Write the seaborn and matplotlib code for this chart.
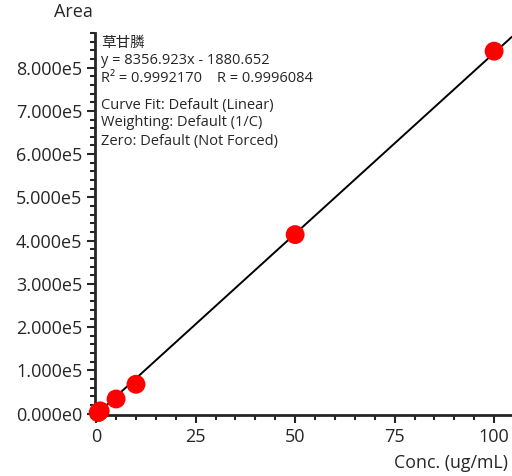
import numpy as np
import pandas as pd
import seaborn as sns
import matplotlib
matplotlib.use("Agg")
import matplotlib.pyplot as plt
from matplotlib.ticker import MultipleLocator, FuncFormatter

# calibration points
conc = [0.5, 1, 5, 10, 50, 100]
area = [2500, 6500, 34000, 68000, 414000, 838000]

# fit reported on the chart
slope = 8356.923
intercept = -1880.652
compound = "草甘膦"
info_lines = [
    compound,
    "y = 8356.923x - 1880.652",
    "R² = 0.9992170    R = 0.9996084",
    "Curve Fit: Default (Linear)",
    "Weighting: Default (1/C)",
    "Zero: Default (Not Forced)",
]
# vertical pixel centres of the info lines
info_y = [43, 61, 79, 105, 123, 141]

sns.set_style("ticks")
plt.rcParams['font.family'] = ['Open Sans', 'Noto Sans CJK SC', 'DejaVu Sans']

df = pd.DataFrame({"Conc": conc, "Area": area})

W, H = 512, 476
fig = plt.figure(figsize=(W / 100, H / 100), dpi=100)
ax = fig.add_axes([95 / W, 1 - 415 / H, 1 - 95 / W, (415 - 33) / H])

xmin, xmax = -0.3, 104.5
line_x = np.array([0, xmax])
line_df = pd.DataFrame({"Conc": line_x, "Area": slope * line_x + intercept})
sns.lineplot(data=line_df, x="Conc", y="Area", color="black", lw=1.4, ax=ax)
sns.scatterplot(data=df, x="Conc", y="Area", color="#ff0000", s=185,
                edgecolor="none", ax=ax, zorder=3, clip_on=False)

ax.set_xlim(xmin, xmax)
ax.set_ylim(-3000, 8.8e5)

ax.xaxis.set_major_locator(MultipleLocator(25))
ax.xaxis.set_minor_locator(MultipleLocator(5))
ax.yaxis.set_major_locator(MultipleLocator(1e5))
ax.yaxis.set_minor_locator(MultipleLocator(2e4))


def sci(v, pos):
    if v == 0:
        return "0.000e0"
    e = int(np.floor(np.log10(abs(v))))
    return "%.3fe%d" % (v / 10 ** e, e)


ax.yaxis.set_major_formatter(FuncFormatter(sci))
ax.tick_params(which="major", length=6, width=1.5, labelsize=13, pad=3)
ax.tick_params(which="minor", length=3.5, width=1.5)
for s in ["left", "bottom"]:
    ax.spines[s].set_linewidth(2)
sns.despine(ax=ax)

ax.set_xlabel("")
ax.set_ylabel("")
fig.text(54 / W, 1 - 12 / H, "Area", fontsize=13, va="center", ha="left")
fig.text(508 / W, 1 - 463 / H, "Conc. (ug/mL)", fontsize=12.8, va="center", ha="right")

for txt, yp in zip(info_lines, info_y):
    fig.text(101 / W, 1 - yp / H, txt, fontsize=10.5, va="center", ha="left")

fig.savefig("out.png", dpi=100)
